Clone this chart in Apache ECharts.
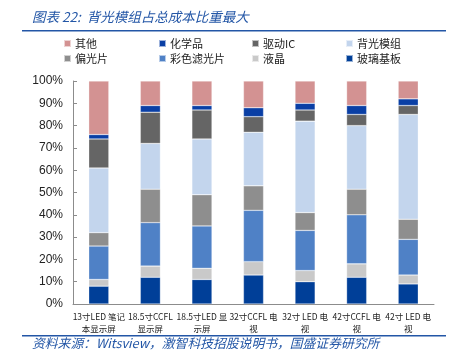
<!DOCTYPE html>
<html><head><meta charset="utf-8">
<script src="https://cdn.jsdelivr.net/npm/echarts@6/dist/echarts.min.js"></script>
<style>html,body{margin:0;padding:0;background:#fff}#c{width:456px;height:359px}</style>
</head><body><div id="c"></div>
<script>
const categories = ['13寸LED 笔记\n本显示屏','18.5寸CCFL\n显示屏','18.5寸LED 显\n示屏','32寸CCFL 电\n视','32寸 LED 电\n视','42寸CCFL 电\n视','42寸 LED 电\n视'];
const glass = [8,12,11,13,10,12,9];
const liquidCrystal = [3,5,5,6,5,6,4];
const colorFilter = [15,19.5,19,23,18,22,16];
const polarizer = [6,15,14,11,8,11.5,9];
const backlight = [29,20.5,25,24,41,28.5,47];
const driverIC = [13,14,13,7,5,5,4];
const chemicals = [2,3,2,4,3,4,3];
const other = [24,11,11,12,10,11,8];
const yTicks = ['0%','10%','20%','30%','40%','50%','60%','70%','80%','90%','100%'];

const names = ['玻璃基板','液晶','彩色滤光片','偏光片','背光模组','驱动IC','化学品','其他'];
const values = [glass, liquidCrystal, colorFilter, polarizer, backlight, driverIC, chemicals, other];
const colors = ['#003f98','#c9c9c9','#4f81c6','#8e8e8e','#c3d5ed','#656565','#0a3fa5','#d39292'];

const legendOrder = ['其他','化学品','驱动IC','背光模组','偏光片','彩色滤光片','液晶','玻璃基板'];
const legendX = [63,158,251,345];
const legendY = [38,53];
const cjk = '"Noto Sans CJK SC", sans-serif';
const legends = legendOrder.map((n,i)=>({
  data:[n], left: legendX[i%4], top: legendY[Math.floor(i/4)],
  itemWidth:7, itemHeight:7, icon:'rect', itemGap:0, selectedMode:false, padding:0,
  textStyle:{fontSize:11, color:'#222', fontFamily:cjk, padding:[0,0,0,-1]}
}));

const chart = echarts.init(document.getElementById('c'));
chart.setOption({
  animation:false,
  legend: legends,
  grid:{left:73, right:22, top:81, bottom:55, containLabel:false},
  xAxis:{type:'category', data:categories,
    axisLine:{lineStyle:{color:'#8c8c8c'}},
    axisTick:{inside:true, length:4, lineStyle:{color:'#8c8c8c'}},
    axisLabel:{interval:0, fontSize:8.5, color:'#222', lineHeight:12, margin:7, fontFamily:'"Liberation Sans Narrow", "Noto Sans CJK SC", sans-serif'}
  },
  yAxis:{type:'value', min:0, max:100, interval:10,
    axisLine:{show:true, lineStyle:{color:'#8c8c8c'}},
    axisTick:{show:true, inside:true, length:4, lineStyle:{color:'#8c8c8c'}},
    splitLine:{show:false},
    axisLabel:{fontSize:12, color:'#222', margin:10, fontFamily:'"Liberation Sans", sans-serif',
      formatter:(v)=>yTicks[Math.round(v/10)]}
  },
  series: names.map((n,i)=>({
    name:n, type:'bar', stack:'total', data:values[i], barWidth:'39%',
    itemStyle:{color:colors[i], borderColor:'rgba(255,255,255,0.6)', borderWidth:0.5}
  })),
  graphic:[
    {type:'text', left:32, top:10, style:{text:'图表 22:  背光模组占总成本比重最大', fontSize:13.5, fontStyle:'italic', fill:'#2356a6', fontFamily:cjk}},
    {type:'rect', shape:{x:22, y:30, width:424, height:1.5}, style:{fill:'#2356a6'}},
    {type:'rect', shape:{x:22, y:335, width:424, height:1.5}, style:{fill:'#2356a6'}},
    {type:'text', left:32, top:337, style:{text:'资料来源：Witsview，激智科技招股说明书，国盛证券研究所', fontSize:12.8, fontStyle:'italic', fill:'#2356a6', fontFamily:cjk}}
  ]
});
</script></body></html>
